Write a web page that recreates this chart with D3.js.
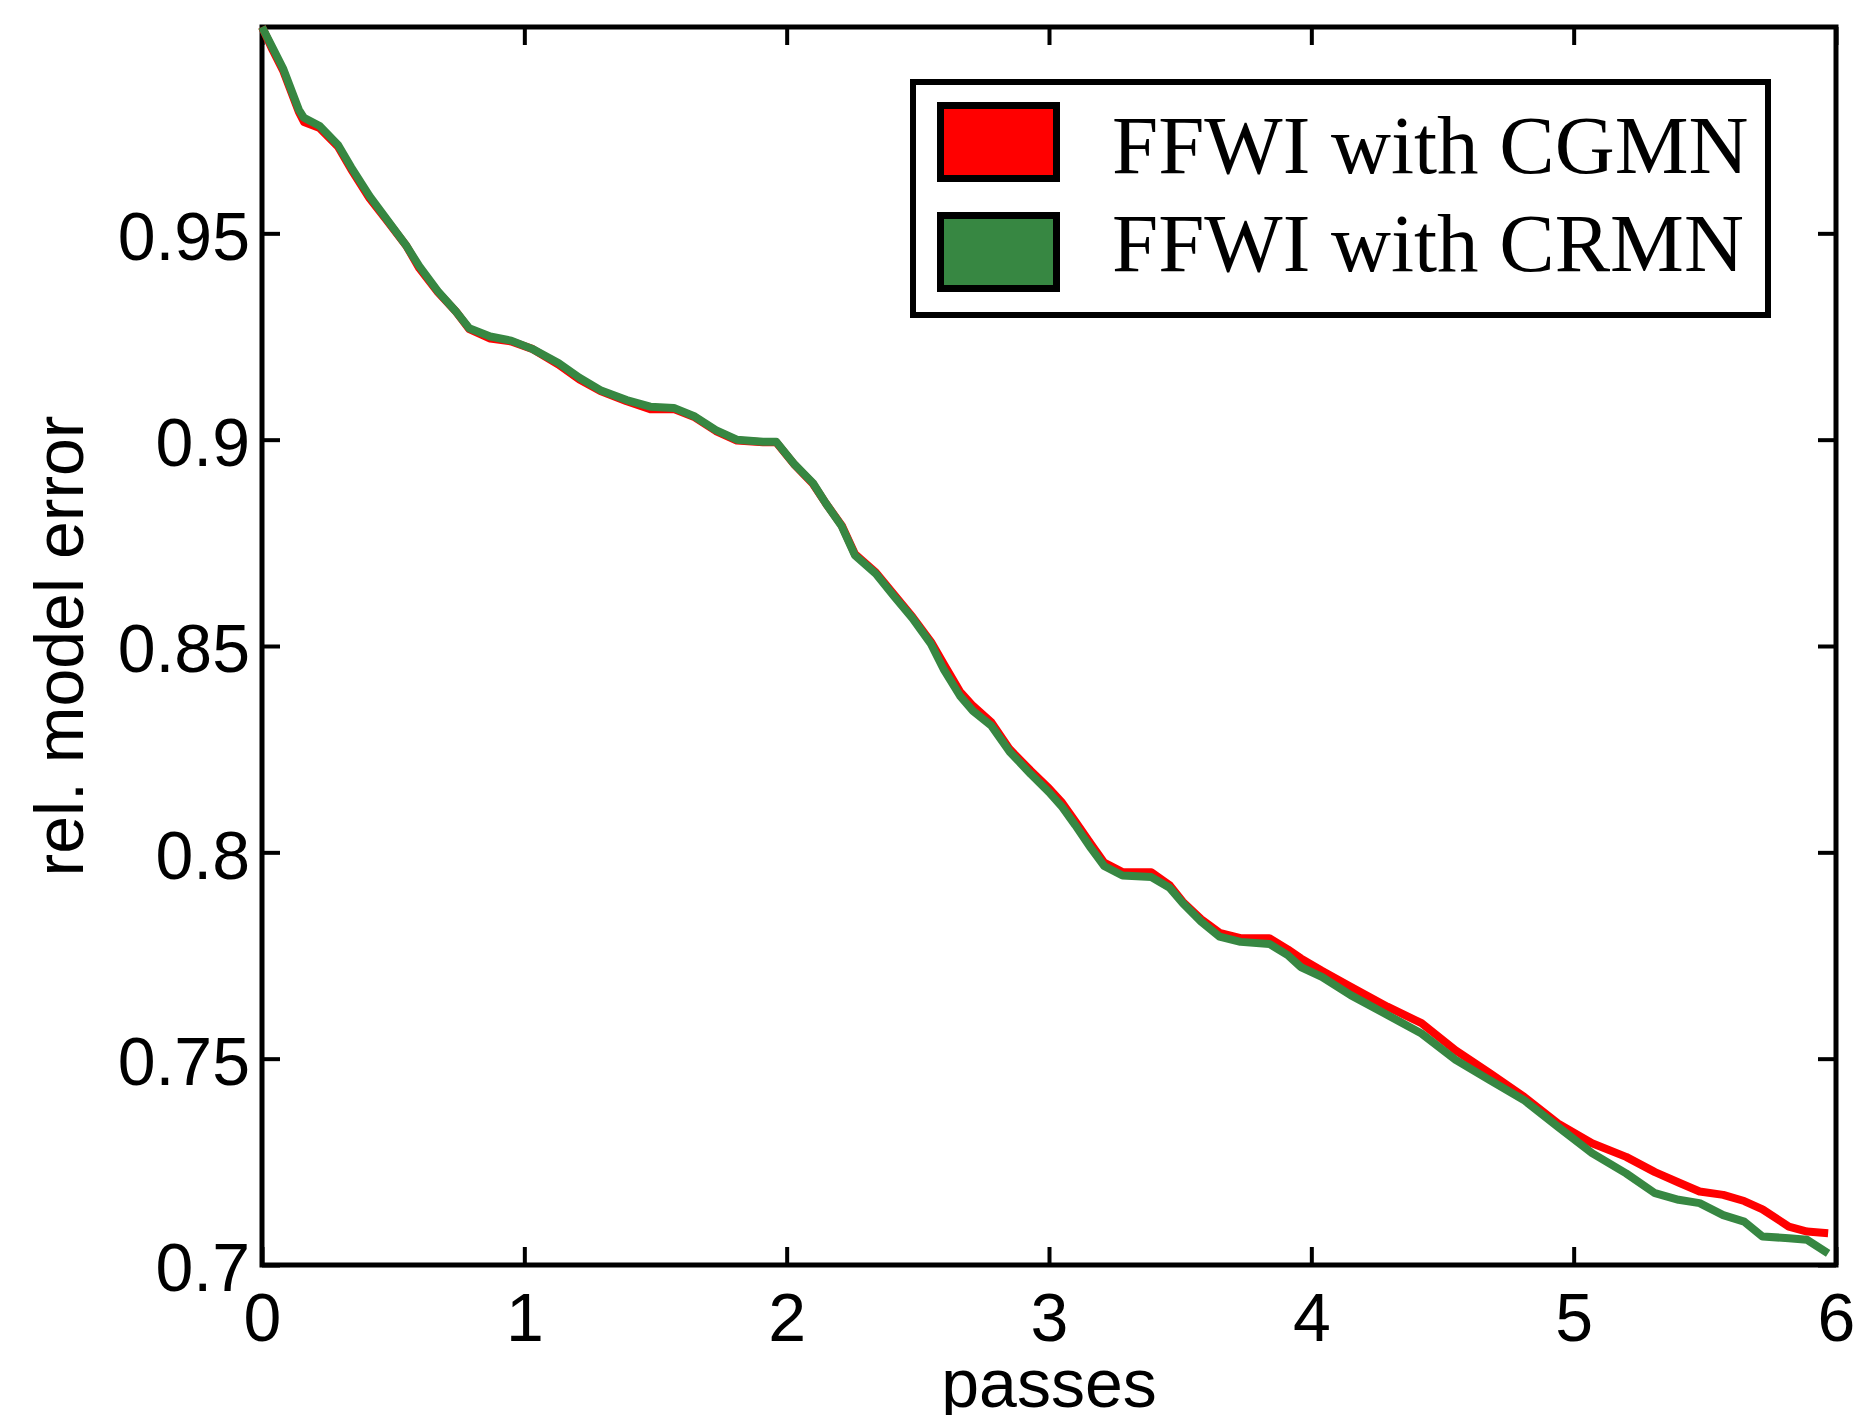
<!DOCTYPE html>
<html>
<head>
<meta charset="utf-8">
<script src="https://cdn.jsdelivr.net/npm/d3@7"></script>
<style>
  body { margin: 0; background: #fff; }
  svg { display: block; }
  .tick text { font-family: "Liberation Sans", Arial, sans-serif; font-size: 68px; fill: #000; }
  .tick line { stroke: #000; stroke-width: 4; }
</style>
</head>
<body>
<svg id="chart" width="1856" height="1415"></svg>
<script>
'use strict'

// passes (x axis) shared by both runs
var passes = [0.00, 0.04, 0.08, 0.14, 0.16, 0.22, 0.29, 0.34, 0.41, 0.48,
              0.55, 0.60, 0.67, 0.74, 0.79, 0.87, 0.95, 1.03, 1.13, 1.21,
              1.29, 1.39, 1.48, 1.57, 1.65, 1.73, 1.81, 1.91, 1.96, 2.03,
              2.10, 2.15, 2.21, 2.26, 2.34, 2.41, 2.48, 2.55, 2.60, 2.66,
              2.71, 2.78, 2.85, 2.93, 3.00, 3.05, 3.10, 3.16, 3.21, 3.28,
              3.39, 3.46, 3.51, 3.58, 3.65, 3.73, 3.84, 3.91, 3.96, 4.04,
              4.15, 4.29, 4.42, 4.55, 4.68, 4.81, 4.94, 5.07, 5.20, 5.31,
              5.40, 5.48, 5.57, 5.65, 5.72, 5.82, 5.89, 5.97];

// FFWI with CGMN
var cgmn = [1.000, 0.9945, 0.9895, 0.9795, 0.977, 0.9755, 0.971, 0.9655, 0.9585, 0.9528,
            0.947, 0.9415, 0.9358, 0.931, 0.9268, 0.9245, 0.9238, 0.922, 0.9182, 0.9146,
            0.9118, 0.9093, 0.9074, 0.9074, 0.9054, 0.9021, 0.8998, 0.8994, 0.8994, 0.8939,
            0.8893, 0.8845, 0.8792, 0.8723, 0.8678, 0.8624, 0.857, 0.851, 0.8455, 0.839,
            0.8355, 0.8315, 0.825, 0.8198, 0.8155, 0.812, 0.8075, 0.802, 0.7975, 0.7952,
            0.7952, 0.792, 0.788, 0.7838, 0.7805, 0.7792, 0.7792, 0.7765, 0.7743, 0.7713,
            0.7674, 0.7626, 0.7586, 0.752, 0.7465, 0.7408, 0.7343, 0.7295, 0.7262, 0.7225,
            0.720, 0.7178, 0.717, 0.7155, 0.7135, 0.7093, 0.7081, 0.7077];

// FFWI with CRMN
var crmn = [1.000, 0.995, 0.990, 0.980, 0.978, 0.976, 0.9714, 0.966, 0.959, 0.953,
            0.947, 0.942, 0.936, 0.931, 0.927, 0.925, 0.924, 0.922, 0.9186, 0.915,
            0.912, 0.9096, 0.908, 0.9077, 0.9056, 0.9023, 0.900, 0.8995, 0.8995, 0.894,
            0.8895, 0.8845, 0.879, 0.872, 0.8675, 0.862, 0.8567, 0.8505, 0.8442, 0.838,
            0.8343, 0.8307, 0.8244, 0.819, 0.8146, 0.811, 0.8066, 0.801, 0.7967, 0.7944,
            0.794, 0.7914, 0.7877, 0.7832, 0.7796, 0.7783, 0.7778, 0.7751, 0.7722, 0.7698,
            0.7654, 0.7606, 0.7561, 0.7497, 0.7448, 0.740, 0.7335, 0.7271, 0.7222, 0.7174,
            0.7158, 0.715, 0.7121, 0.7105, 0.7069, 0.7065, 0.7061, 0.7028];

var xTicks = [0, 1, 2, 3, 4, 5, 6];
var yTicks = [0.7, 0.75, 0.8, 0.85, 0.9, 0.95];
var yTickLabels = ["0.7", "0.75", "0.8", "0.85", "0.9", "0.95"];
var seriesNames = ["FFWI with CGMN", "FFWI with CRMN"];
var seriesColors = ["#ff0000", "#378742"];

const W = 1856, H = 1415;
const margin = {left: 262, right: 20, top: 27, bottom: 150};
const plotW = W - margin.left - margin.right;
const plotH = H - margin.top - margin.bottom;

const svg = d3.select("#chart");
svg.append("rect").attr("width", W).attr("height", H).attr("fill", "#fff");

const g = svg.append("g").attr("transform", "translate(" + margin.left + "," + margin.top + ")");

var x = d3.scaleLinear().domain([0, 6]).range([0, plotW]);
var y = d3.scaleLinear().domain([0.7, 1.0]).range([plotH, 0]);

// axes with ticks pointing inward (matlab box style)
var axBottom = g.append("g")
    .attr("transform", "translate(0," + plotH + ")")
    .call(d3.axisBottom(x).tickValues(xTicks).tickSize(-18).tickPadding(28).tickFormat(d3.format("d")));
var axLeft = g.append("g")
    .call(d3.axisLeft(y).tickValues(yTicks).tickSize(-18).tickPadding(12)
        .tickFormat(function(d, i){ return yTickLabels[i]; }));
axLeft.selectAll(".tick text").attr("dy", "0.38em");
var axTop = g.append("g")
    .call(d3.axisTop(x).tickValues(xTicks).tickSize(-18).tickFormat(""));
var axRight = g.append("g")
    .attr("transform", "translate(" + plotW + ",0)")
    .call(d3.axisRight(y).tickValues(yTicks).tickSize(-18).tickFormat(""));

g.selectAll(".domain").remove();

g.append("rect")
    .attr("width", plotW).attr("height", plotH)
    .attr("fill", "none").attr("stroke", "#000").attr("stroke-width", 5);

// curves
var runs = [cgmn, crmn];
var line = d3.line()
    .x(function(d){ return x(d[0]); })
    .y(function(d){ return y(d[1]); });

runs.forEach(function(vals, k){
    var pts = passes.map(function(p, i){ return [p, vals[i]]; });
    g.append("path")
        .datum(pts)
        .attr("d", line)
        .attr("fill", "none")
        .attr("stroke", seriesColors[k])
        .attr("stroke-width", 8)
        .attr("stroke-linejoin", "round");
});

// axis labels
svg.append("text")
    .attr("x", margin.left + plotW / 2).attr("y", 1407)
    .attr("text-anchor", "middle")
    .style("font-family", "'Liberation Sans', Arial, sans-serif")
    .style("font-size", "68px")
    .text("passes");

svg.append("text")
    .attr("transform", "translate(83," + (margin.top + plotH / 2) + ") rotate(-90)")
    .attr("text-anchor", "middle")
    .style("font-family", "'Liberation Sans', Arial, sans-serif")
    .style("font-size", "68px")
    .text("rel. model error");

// legend
var leg = svg.append("g");
leg.append("rect")
    .attr("x", 913).attr("y", 82).attr("width", 855).attr("height", 233)
    .attr("fill", "#fff").attr("stroke", "#000").attr("stroke-width", 6);

seriesNames.forEach(function(name, i){
    leg.append("rect")
        .attr("x", 940.5).attr("y", 105.5 + i * 110)
        .attr("width", 116).attr("height", 73)
        .attr("fill", seriesColors[i]).attr("stroke", "#000").attr("stroke-width", 7);
    leg.append("text")
        .attr("x", 1112).attr("y", 173 + i * 98)
        .style("font-family", "'Liberation Serif', 'Times New Roman', serif")
        .style("font-size", "83px")
        .text(name);
});
</script>
</body>
</html>
